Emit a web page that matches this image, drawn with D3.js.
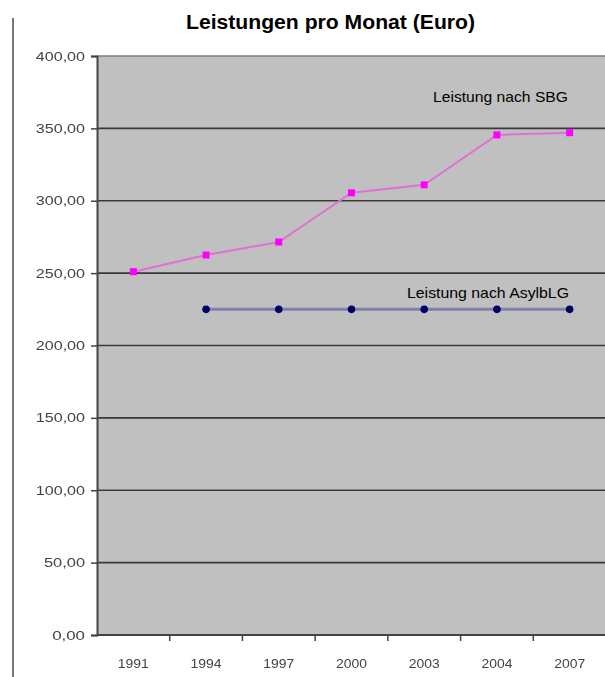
<!DOCTYPE html>
<html><head><meta charset="utf-8">
<script src="https://cdn.jsdelivr.net/npm/d3@7"></script>
<style>body{margin:0;background:#fff;}svg{display:block;}</style>
</head><body>
<svg id="c" width="605" height="677"></svg>
<script>
const years = ["1991","1994","1997","2000","2003","2004","2007"];
const sbgValues = [251, 262.5, 271.5, 305.5, 311, 345.5, 347];
const asylYears = ["1994","1997","2000","2003","2004","2007"];
const asylValues = [224.97, 224.97, 224.97, 224.97, 224.97, 224.97];
const yTicks = [0, 50, 100, 150, 200, 250, 300, 350, 400];
const title = "Leistungen pro Monat (Euro)";
const sbgLabel = "Leistung nach SBG";
const asylLabel = "Leistung nach AsylbLG";

(function () {
const svg = d3.select("#c");
const pLeft = 97, pRight = 606, pTop = 56, pBottom = 635;
const x = d3.scaleBand().domain(years).range([pLeft, pRight]);
const y = d3.scaleLinear().domain([0, 400]).range([pBottom, pTop]);
const cx = d => x(d) + x.bandwidth() / 2;
const font = "Liberation Sans, Arial, sans-serif";

// outer left line
svg.append("line").attr("x1", 13).attr("x2", 13).attr("y1", 18).attr("y2", 677)
  .attr("stroke", "#777").attr("stroke-width", 2);

// title
svg.append("text").attr("x", 186).attr("y", 29)
  .attr("font-family", font).attr("font-weight", "bold")
  .attr("font-size", 20).attr("fill", "#000")
  .attr("textLength", 289).attr("lengthAdjust", "spacingAndGlyphs").text(title);

// plot area
svg.append("rect").attr("x", pLeft).attr("y", pTop).attr("width", pRight - pLeft).attr("height", pBottom - pTop)
  .attr("fill", "#c0c0c0");

// gridlines
svg.append("g").selectAll("line").data(yTicks.filter(t => t > 0 && t < 400)).join("line")
  .attr("x1", pLeft).attr("x2", pRight).attr("y1", d => y(d)).attr("y2", d => y(d))
  .attr("stroke", "#3a3a3a").attr("stroke-width", 1.6);
svg.append("line").attr("x1", pLeft).attr("x2", pRight).attr("y1", y(400)).attr("y2", y(400))
  .attr("stroke", "#808080").attr("stroke-width", 1.5);

// y axis
const fmt = d => d3.format(".2f")(d).replace(".", ",");
const yAxis = d3.axisLeft(y).tickValues(yTicks).tickSize(6).tickPadding(6).tickFormat(fmt);
const gy = svg.append("g").attr("transform", `translate(${pLeft},0)`).call(yAxis);
gy.select(".domain").attr("stroke", "#444").attr("stroke-width", 2);
gy.selectAll(".tick line").attr("stroke", "#444").attr("stroke-width", 1.5);
gy.selectAll(".tick text").attr("font-family", font)
  .attr("font-size", 12.5).attr("fill", "#444").attr("x", -12)
  .attr("textLength", d => fmt(d).length * 8.2).attr("lengthAdjust", "spacingAndGlyphs")
  .style("filter", "blur(0.4px)");

// x axis
const xAxis = d3.axisBottom(x).tickSize(0).tickPadding(24);
const gx = svg.append("g").attr("transform", `translate(0,${pBottom})`).call(xAxis);
gx.select(".domain").remove();
gx.selectAll(".tick text").attr("font-family", font)
  .attr("font-size", 13).attr("fill", "#444")
  .attr("textLength", 31).attr("lengthAdjust", "spacingAndGlyphs")
  .style("filter", "blur(0.4px)");
svg.append("line").attr("x1", pLeft).attr("x2", pRight).attr("y1", pBottom).attr("y2", pBottom)
  .attr("stroke", "#444").attr("stroke-width", 2);
svg.append("g").selectAll("line").data(years.slice(1)).join("line")
  .attr("x1", d => x(d)).attr("x2", d => x(d)).attr("y1", pBottom).attr("y2", pBottom + 6)
  .attr("stroke", "#444").attr("stroke-width", 1.5);

// AsylbLG series
const asyl = asylYears.map((yr, i) => ({yr, v: asylValues[i]}));
svg.append("path").datum(asyl)
  .attr("d", d3.line().x(d => cx(d.yr)).y(d => y(d.v)))
  .attr("fill", "none").attr("stroke", "#8080a8").attr("stroke-width", 3);
svg.append("g").selectAll("circle").data(asyl).join("circle")
  .attr("cx", d => cx(d.yr)).attr("cy", d => y(d.v)).attr("r", 3.8).attr("fill", "#000066");

// SBG series
const sbg = years.map((yr, i) => ({yr, v: sbgValues[i]}));
svg.append("path").datum(sbg)
  .attr("d", d3.line().x(d => cx(d.yr)).y(d => y(d.v)))
  .attr("fill", "none").attr("stroke", "#e070d8").attr("stroke-width", 2);
svg.append("g").selectAll("rect").data(sbg).join("rect")
  .attr("x", d => cx(d.yr) - 3.5).attr("y", d => y(d.v) - 3.5).attr("width", 7).attr("height", 7)
  .attr("fill", "#ff00ff");

// labels
svg.append("text").attr("x", 433).attr("y", 102)
  .attr("font-family", font).attr("font-size", 15).attr("fill", "#000")
  .attr("textLength", 135).attr("lengthAdjust", "spacingAndGlyphs").text(sbgLabel);
svg.append("text").attr("x", 407).attr("y", 298)
  .attr("font-family", font).attr("font-size", 15).attr("fill", "#000")
  .attr("textLength", 162).attr("lengthAdjust", "spacingAndGlyphs").text(asylLabel);
})();
</script>
</body></html>
